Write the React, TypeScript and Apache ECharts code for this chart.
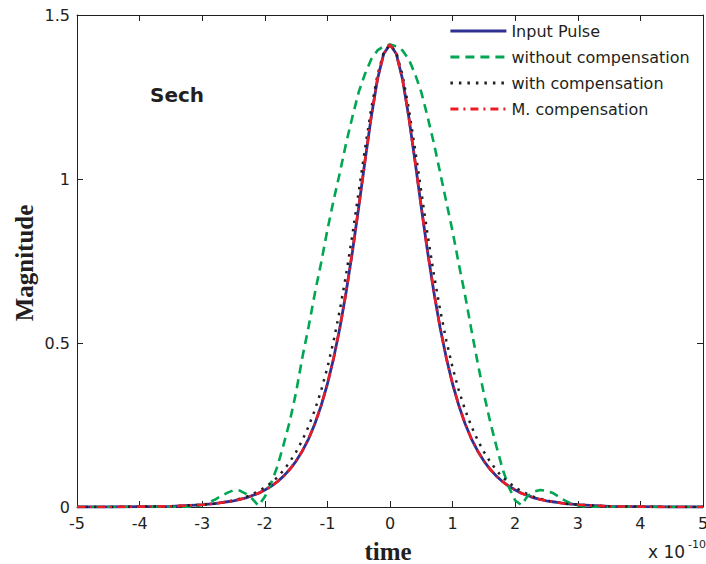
import React, { useEffect, useRef } from "react";
import * as echarts from "echarts";

// time axis (units of 1e-10 s)
const times = [
  -5, -4.5, -4, -3.5,
  -3.2, -3.1, -3.0, -2.9, -2.8, -2.7, -2.6, -2.5, -2.4, -2.3, -2.2, -2.1, -2.0, -1.9, -1.8, -1.7, -1.6,
  -1.5, -1.4, -1.3, -1.2, -1.1, -1.0, -0.9, -0.8, -0.7, -0.6, -0.5, -0.4, -0.3, -0.2, -0.1,
  0,
  0.1, 0.2, 0.3, 0.4, 0.5, 0.6, 0.7, 0.8, 0.9, 1.0, 1.1, 1.2, 1.3, 1.4, 1.5, 1.6,
  1.7, 1.8, 1.9, 2.0, 2.1, 2.2, 2.3, 2.4, 2.5, 2.6, 2.7, 2.8, 2.9, 3.0, 3.1, 3.2,
  3.5, 4, 4.5, 5,
];

const inputPulse = [
  0, 0, 0.001, 0.002,
  0.005, 0.006, 0.007, 0.009, 0.010, 0.013, 0.016, 0.019, 0.023, 0.028, 0.035, 0.042, 0.052, 0.063, 0.077, 0.094, 0.115,
  0.140, 0.171, 0.208, 0.254, 0.309, 0.375, 0.454, 0.547, 0.656, 0.779, 0.914, 1.054, 1.189, 1.304, 1.382,
  1.41,
  1.382, 1.304, 1.189, 1.054, 0.914, 0.779, 0.656, 0.547, 0.454, 0.375, 0.309, 0.254, 0.208, 0.171, 0.140, 0.115,
  0.094, 0.077, 0.063, 0.052, 0.042, 0.035, 0.028, 0.023, 0.019, 0.016, 0.013, 0.010, 0.009, 0.007, 0.006, 0.005,
  0.002, 0.001, 0, 0,
];

const withoutComp = [
  0, 0, 0, 0,
  0.001, 0.003, 0.006, 0.013, 0.022, 0.033, 0.043, 0.051, 0.050, 0.040, 0.025, 0.004, 0.031, 0.072, 0.123, 0.19, 0.262,
  0.35, 0.456, 0.55, 0.652, 0.745, 0.845, 0.936, 1.02, 1.11, 1.19, 1.265, 1.32, 1.365, 1.392, 1.405,
  1.41,
  1.405, 1.392, 1.365, 1.32, 1.265, 1.19, 1.11, 1.02, 0.93, 0.84, 0.74, 0.645, 0.54, 0.44, 0.345, 0.26,
  0.185, 0.115, 0.06, 0.02, 0.006, 0.034, 0.047, 0.052, 0.049, 0.043, 0.031, 0.019, 0.010, 0.005, 0.002, 0.001,
  0, 0, 0, 0,
];

const withComp = [
  0, 0, 0.001, 0.002,
  0.005, 0.006, 0.007, 0.009, 0.010, 0.013, 0.016, 0.020, 0.025, 0.031, 0.039, 0.048, 0.060, 0.074, 0.090, 0.112, 0.138,
  0.168, 0.204, 0.246, 0.296, 0.355, 0.425, 0.507, 0.602, 0.710, 0.831, 0.961, 1.091, 1.214, 1.317, 1.386,
  1.41,
  1.386, 1.317, 1.214, 1.091, 0.961, 0.831, 0.710, 0.602, 0.507, 0.425, 0.355, 0.296, 0.246, 0.204, 0.168, 0.138,
  0.112, 0.090, 0.074, 0.060, 0.048, 0.039, 0.031, 0.025, 0.020, 0.016, 0.013, 0.010, 0.009, 0.007, 0.006, 0.005,
  0.002, 0.001, 0, 0,
];

const mComp = [
  0, 0, 0.001, 0.002,
  0.005, 0.006, 0.007, 0.009, 0.010, 0.013, 0.016, 0.019, 0.023, 0.028, 0.035, 0.042, 0.052, 0.063, 0.077, 0.094, 0.115,
  0.140, 0.171, 0.208, 0.254, 0.309, 0.375, 0.454, 0.547, 0.656, 0.779, 0.914, 1.054, 1.189, 1.304, 1.382,
  1.41,
  1.382, 1.304, 1.189, 1.054, 0.914, 0.779, 0.656, 0.547, 0.454, 0.375, 0.309, 0.254, 0.208, 0.171, 0.140, 0.115,
  0.094, 0.077, 0.063, 0.052, 0.042, 0.035, 0.028, 0.023, 0.019, 0.016, 0.013, 0.010, 0.009, 0.007, 0.006, 0.005,
  0.002, 0.001, 0, 0,
];

const seriesNames = ["Input Pulse", "without compensation", "with compensation", "M. compensation"];

const INK = "#231F20";
const SANS = '"DejaVu Sans", sans-serif';
const SERIF = '"Liberation Serif", "Times New Roman", serif';

export default function App() {
  const ref = useRef<HTMLDivElement>(null);

  useEffect(() => {
    if (!ref.current) return;
    const chart = echarts.init(ref.current, null, { renderer: "svg" });
    const pairs = (ys: number[]) => times.map((t, i) => [t, ys[i]]);

    const axisCommon = {
      type: "value" as const,
      axisLine: { show: true, onZero: false, lineStyle: { color: INK, width: 1 } },
      axisTick: { show: true, inside: true, length: 6, lineStyle: { color: INK, width: 1 } },
      splitLine: { show: false },
    };

    chart.setOption({
      animation: false,
      backgroundColor: "#ffffff",
      grid: {
        left: 77,
        right: 3,
        top: 15,
        bottom: 57,
        containLabel: false,
        outerBoundsMode: "none",
      },
      xAxis: [
        {
          ...axisCommon,
          position: "bottom",
          min: -5,
          max: 5,
          interval: 1,
          axisLabel: { show: true, fontSize: 16, fontFamily: SANS, color: INK, margin: 8 },
        },
        {
          ...axisCommon,
          position: "top",
          min: -5,
          max: 5,
          interval: 1,
          axisLabel: { show: false },
        },
      ],
      yAxis: [
        {
          ...axisCommon,
          position: "left",
          min: 0,
          max: 1.5,
          interval: 0.5,
          axisLabel: { show: true, fontSize: 16, fontFamily: SANS, color: INK, margin: 7 },
        },
        {
          ...axisCommon,
          position: "right",
          min: 0,
          max: 1.5,
          interval: 0.5,
          axisLabel: { show: false },
        },
      ],
      legend: {
        orient: "vertical",
        left: 449,
        top: 23,
        itemWidth: 56,
        itemHeight: 16,
        itemGap: 10,
        padding: 0,
        data: seriesNames,
        itemStyle: { opacity: 0, borderWidth: 0 },
        lineStyle: { width: 2.8 },
        textStyle: { fontSize: 16, fontFamily: SANS, color: INK, lineHeight: 16 },
      },
      series: [
        {
          name: seriesNames[0],
          type: "line",
          data: pairs(inputPulse),
          symbol: "none",
          showSymbol: false,
          lineStyle: { color: "#2E3192", width: 2.8, type: "solid" },
          itemStyle: { color: "#2E3192" },
          z: 2,
        },
        {
          name: seriesNames[1],
          type: "line",
          data: pairs(withoutComp),
          symbol: "none",
          showSymbol: false,
          lineStyle: { color: "#00A651", width: 2.6, type: [9, 6] },
          itemStyle: { color: "#00A651" },
          z: 3,
        },
        {
          name: seriesNames[2],
          type: "line",
          data: pairs(withComp),
          symbol: "none",
          showSymbol: false,
          lineStyle: { color: INK, width: 2.5, type: [2.5, 6] },
          itemStyle: { color: INK },
          z: 4,
        },
        {
          name: seriesNames[3],
          type: "line",
          data: pairs(mComp),
          symbol: "none",
          showSymbol: false,
          lineStyle: { color: "#ED1C24", width: 2.6, type: [8, 5, 2, 5] },
          itemStyle: { color: "#ED1C24" },
          z: 5,
        },
      ],
      graphic: [
        {
          type: "text",
          x: 150,
          y: 95,
          style: { text: "Sech", font: `bold 20px ${SANS}`, fill: INK, align: "left", verticalAlign: "middle" },
        },
        {
          type: "text",
          x: 388,
          y: 551,
          style: { text: "time", font: `bold 25px ${SERIF}`, fill: INK, align: "center", verticalAlign: "middle" },
        },
        {
          type: "text",
          x: 24,
          y: 263,
          rotation: Math.PI / 2,
          style: { text: "Magnitude", font: `bold 25px ${SERIF}`, fill: INK, align: "center", verticalAlign: "middle" },
        },
        {
          type: "text",
          x: 648,
          y: 552,
          style: { text: "x 10", font: `17px ${SANS}`, fill: INK, align: "left", verticalAlign: "middle" },
        },
        {
          type: "text",
          x: 688,
          y: 544,
          style: { text: "-10", font: `11px ${SANS}`, fill: INK, align: "left", verticalAlign: "middle" },
        },
      ],
    });

    return () => chart.dispose();
  }, []);

  return (
    <div
      ref={ref}
      style={{ position: "absolute", left: 0, top: 0, width: 706, height: 564 }}
    />
  );
}
